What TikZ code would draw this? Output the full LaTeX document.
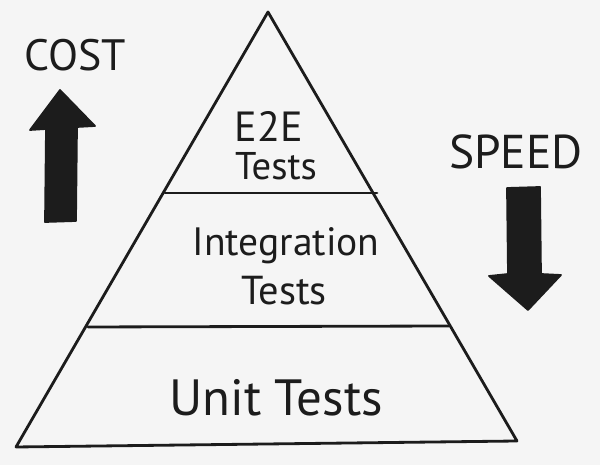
\documentclass[tikz,border=0pt]{standalone}
\usepackage{fontspec}
\setmainfont{PT Sans}
\definecolor{paper}{HTML}{F5F5F5}
\definecolor{ink}{HTML}{1C1C1C}
\begin{document}
\begin{tikzpicture}[x=0.02cm,y=-0.02cm,
  marker/.style={draw=ink,line width=1.6pt,line join=round,line cap=round},
  label/.style={text=ink,inner sep=0pt,align=center},
  fs/.style={font=\fontsize{#1}{#1}\selectfont},
  bigarrow/.style={fill=ink,draw=ink,line width=1pt,line join=round}]
  % paper
  \fill[paper] (0,0) rectangle (600,465);
  \useasboundingbox (0,0) rectangle (600,465);

  % pyramid outline
  \coordinate (apex) at (268,12);
  \coordinate (baseL) at (16,447);
  \coordinate (baseR) at (517,441);
  \coordinate (topL) at (165,193);
  \coordinate (topR) at (377,193);
  \coordinate (midL) at (88,327);
  \coordinate (midR) at (449,326);
  \draw[marker] (apex) -- (baseL) -- (baseR) -- cycle;
  \draw[marker] (topL) -- (topR);
  \draw[marker] (midL) -- (midR);

  % tier labels
  \node[label,fs=24] (e2e) at (269,126) {E2E};
  \node[label,fs=22] (e2etests) at (276,166) {Tests};
  \node[label,fs=22.5] (integ) at (286,246) {Integration};
  \node[label,fs=23] (integtests) at (284,291) {Tests};
  \node[label,fs=29] (unit) at (276,398) {Unit Tests};

  % cost arrow, pointing up
  \node[label,fs=25] (cost) at (75,55) {COST};
  \fill[bigarrow] (60,90) -- (95,126) -- (77,127) -- (76,221) -- (45,222)
    -- (46,129) -- (30,130) -- cycle;

  % speed arrow, pointing down
  \node[label,fs=27] (speed) at (516,152) {SPEED};
  \fill[bigarrow] (507,188) -- (540,187) -- (541,274) -- (561,275)
    -- (528,310) -- (489,276) -- (508,274) -- cycle;
\end{tikzpicture}
\end{document}
